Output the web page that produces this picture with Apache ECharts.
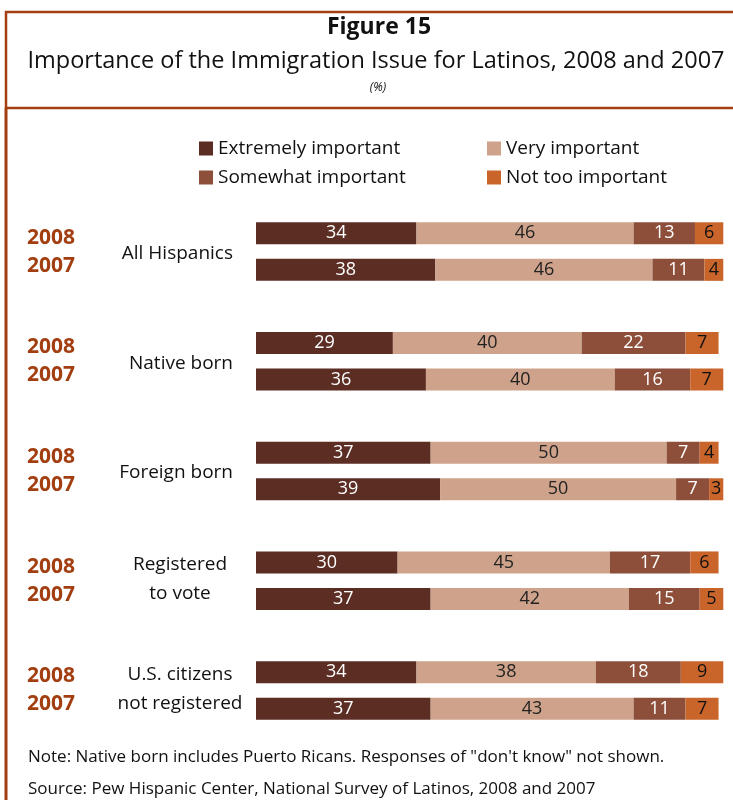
<!DOCTYPE html>
<html>
<head>
<meta charset="utf-8">
<script src="https://cdn.jsdelivr.net/npm/echarts@6/dist/echarts.min.js"></script>
<style>
html,body{margin:0;padding:0;background:#fff;}
#chart{width:733px;height:800px;}
</style>
</head>
<body>
<div id="chart"></div>
<script>
// ---- data ----
var groups = ['All Hispanics', 'Native born', 'Foreign born', 'Registered to vote', 'U.S. citizens not registered'];
var groupLines = [['All Hispanics'], ['Native born'], ['Foreign born'], ['Registered', 'to vote'], ['U.S. citizens', 'not registered']];
var years = ['2008', '2007'];
var seriesNames = ['Extremely important', 'Very important', 'Somewhat important', 'Not too important'];
var extremely2008 = [34, 29, 37, 30, 34];
var extremely2007 = [38, 36, 39, 37, 37];
var very2008 = [46, 40, 50, 45, 38];
var very2007 = [46, 40, 50, 42, 43];
var somewhat2008 = [13, 22, 7, 17, 18];
var somewhat2007 = [11, 16, 7, 15, 11];
var notToo2008 = [6, 7, 4, 6, 9];
var notToo2007 = [4, 7, 3, 5, 7];
var noteText = 'Note: Native born includes Puerto Ricans. Responses of "don\'t know" not shown.';
var sourceText = 'Source: Pew Hispanic Center, National Survey of Latinos, 2008 and 2007';

// ---- build rows (two bars per group, one blank slot between groups) ----
var cats = [], rowsE = [], rowsV = [], rowsS = [], rowsN = [];
var blank = 0;
groups.forEach(function (g, i) {
  cats.push(g + ' 2008'); rowsE.push(extremely2008[i]); rowsV.push(very2008[i]); rowsS.push(somewhat2008[i]); rowsN.push(notToo2008[i]);
  cats.push(g + ' 2007'); rowsE.push(extremely2007[i]); rowsV.push(very2007[i]); rowsS.push(somewhat2007[i]); rowsN.push(notToo2007[i]);
  if (i < groups.length - 1) {
    blank++; cats.push(new Array(blank + 1).join(' '));
    rowsE.push('-'); rowsV.push('-'); rowsS.push('-'); rowsN.push('-');
  }
});

var colors = ['#5B2D23', '#CFA38B', '#8D4F3A', '#C9652A'];
var labelColors = ['#ffffff', '#222222', '#ffffff', '#111111'];
var FONT = "'Open Sans', sans-serif";
var ORANGE = '#A23E10';

function mk(name, data, idx) {
  return {
    name: name, type: 'bar', stack: 'total', data: data, barWidth: 22,
    itemStyle: { color: colors[idx] },
    label: { show: true, position: 'inside', color: labelColors[idx], fontSize: 18, fontFamily: FONT },
    emphasis: { disabled: true }
  };
}

var chart = echarts.init(document.getElementById('chart'), null, { renderer: 'canvas' });
var option = {
  animation: false,
  backgroundColor: '#ffffff',
  grid: { left: 256, top: 215, width: 472, height: 512, containLabel: false },
  xAxis: { type: 'value', min: 0, max: 100, show: false },
  yAxis: { type: 'category', data: cats, inverse: true, show: false },
  legend: [
    { data: ['Extremely important', 'Somewhat important'], orient: 'vertical', left: 194, top: 134, itemWidth: 14, itemHeight: 14, itemGap: 10, icon: 'rect',
      textStyle: { fontSize: 19, fontFamily: FONT, color: '#111' }, selectedMode: false },
    { data: ['Very important', 'Not too important'], orient: 'vertical', left: 482, top: 134, itemWidth: 14, itemHeight: 14, itemGap: 10, icon: 'rect',
      textStyle: { fontSize: 19, fontFamily: FONT, color: '#111' }, selectedMode: false }
  ],
  series: [
    mk(seriesNames[0], rowsE, 0),
    mk(seriesNames[1], rowsV, 1),
    mk(seriesNames[2], rowsS, 2),
    mk(seriesNames[3], rowsN, 3)
  ]
};
chart.setOption(option);

// ---- labels and frame, positioned from the category axis ----
var g = [];
g.push({ type: 'rect', shape: { x: 6, y: 12, width: 760, height: 96 }, style: { fill: 'none', stroke: ORANGE, lineWidth: 2.5 }, silent: true });
g.push({ type: 'line', shape: { x1: 6, y1: 108, x2: 6, y2: 800 }, style: { stroke: ORANGE, lineWidth: 3 }, silent: true });
g.push({ type: 'text', x: 379, y: 27, style: { text: 'Figure 15', font: "bold 23px " + FONT, fill: '#111', textAlign: 'center', textVerticalAlign: 'middle' } });
g.push({ type: 'text', x: 376, y: 61, style: { text: 'Importance of the Immigration Issue for Latinos, 2008 and 2007', font: "23.5px " + FONT, fill: '#111', textAlign: 'center', textVerticalAlign: 'middle' } });
g.push({ type: 'text', x: 378, y: 88, style: { text: '(%)', font: "italic 12px " + FONT, fill: '#111', textAlign: 'center', textVerticalAlign: 'middle' } });

groups.forEach(function (name, i) {
  var y1 = chart.convertToPixel({ yAxisIndex: 0 }, name + ' 2008');
  var y2 = chart.convertToPixel({ yAxisIndex: 0 }, name + ' 2007');
  var mid = (y1 + y2) / 2;
  g.push({ type: 'text', x: 27, y: mid - 14, style: { text: years[0], font: "bold 21px " + FONT, fill: ORANGE, textAlign: 'left', textVerticalAlign: 'middle' } });
  g.push({ type: 'text', x: 27, y: mid + 14, style: { text: years[1], font: "bold 21px " + FONT, fill: ORANGE, textAlign: 'left', textVerticalAlign: 'middle' } });
  var lines = groupLines[i];
  if (lines.length === 1) {
    g.push({ type: 'text', x: 233, y: mid + 2, style: { text: lines[0], font: "19px " + FONT, fill: '#111', textAlign: 'right', textVerticalAlign: 'middle' } });
  } else {
    g.push({ type: 'text', x: 180, y: mid - 16, style: { text: lines[0], font: "19px " + FONT, fill: '#111', textAlign: 'center', textVerticalAlign: 'middle' } });
    g.push({ type: 'text', x: 180, y: mid + 13, style: { text: lines[1], font: "19px " + FONT, fill: '#111', textAlign: 'center', textVerticalAlign: 'middle' } });
  }
});
g.push({ type: 'text', x: 28, y: 757, style: { text: noteText, font: "17px " + FONT, fill: '#111', textAlign: 'left', textVerticalAlign: 'middle' } });
g.push({ type: 'text', x: 28, y: 789, style: { text: sourceText, font: "17px " + FONT, fill: '#111', textAlign: 'left', textVerticalAlign: 'middle' } });

chart.setOption({ graphic: g });
</script>
</body>
</html>
